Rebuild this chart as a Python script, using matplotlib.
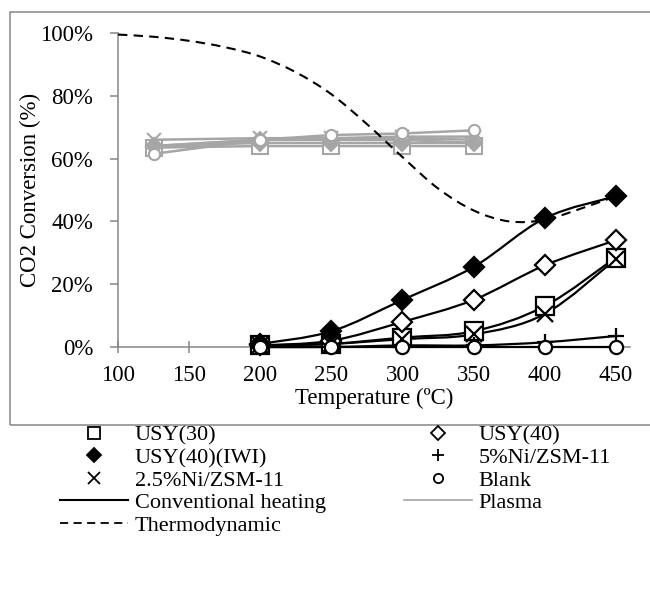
import numpy as np
import matplotlib.pyplot as plt
from matplotlib.path import Path
from matplotlib.patches import PathPatch, Rectangle
from matplotlib.lines import Line2D
from matplotlib.ticker import FuncFormatter

plt.rcParams['font.family'] = ['Liberation Serif', 'DejaVu Serif']

# conventional heating (%)
temp_conv = [200, 250, 300, 350, 400, 450]
usy30_conv = [0.5, 1.0, 3.0, 5.0, 13.0, 28.5]
usy40_conv = [0.5, 2.0, 8.0, 15.0, 26.0, 34.0]
usy40iwi_conv = [1.0, 5.0, 15.0, 25.5, 41.0, 48.0]
ni5_conv = [0.0, 0.0, 0.5, 0.5, 1.5, 3.5]
ni25_conv = [0.5, 1.0, 2.5, 4.0, 10.5, 28.0]
blank_conv = [0.0, 0.0, 0.0, 0.0, 0.0, 0.0]

# plasma (%)
temp_plasma = [125, 200, 250, 300, 350]
usy30_plasma = [63.5, 64.0, 64.0, 64.0, 64.0]
usy40_plasma = [64.0, 66.0, 66.0, 66.5, 66.0]
usy40iwi_plasma = [64.0, 65.0, 65.0, 65.0, 65.0]
ni5_plasma = [64.0, 66.0, 66.0, 66.0, 65.0]
ni25_plasma = [66.0, 66.5, 66.5, 67.0, 67.0]
blank_plasma = [61.5, 66.0, 67.5, 68.0, 69.0]

# thermodynamic equilibrium (%)
temp_thermo = [100, 125, 150, 175, 200, 225, 250, 275, 300, 325, 350, 375, 400, 425, 450]
thermo = [99.5, 98.8, 97.5, 95.5, 92.5, 87.5, 80.5, 71.0, 60.5, 50.5, 43.5, 40.0, 40.5, 44.0, 48.0]

labels = ['USY(30)', 'USY(40)', 'USY(40)(IWI)', '5%Ni/ZSM-11', '2.5%Ni/ZSM-11', 'Blank']
markers = ['s', 'D', 'D', '+', 'x', 'o']
filled = [False, False, True, False, False, False]
msizes = [13, 10, 10, 12, 12, 9.5]
conv_sets = [usy30_conv, usy40_conv, usy40iwi_conv, ni5_conv, ni25_conv, blank_conv]
plasma_sets = [usy30_plasma, usy40_plasma, usy40iwi_plasma, ni5_plasma, ni25_plasma, blank_plasma]

GRAY = '#a6a6a6'
AXGRAY = '#868686'


def smooth_path(x, y):
    # excel style smoothed line: cubic bezier through every point
    pts = np.column_stack([x, y]).astype(float)
    n = len(pts)
    verts = [pts[0]]
    codes = [Path.MOVETO]
    for i in range(n - 1):
        p0 = pts[i - 1] if i > 0 else pts[i]
        p3 = pts[i + 2] if i + 2 < n else pts[i + 1]
        c1 = pts[i] + (pts[i + 1] - p0) / 6.0
        c2 = pts[i + 1] - (p3 - pts[i]) / 6.0
        verts += [c1, c2, pts[i + 1]]
        codes += [Path.CURVE4] * 3
    return Path(verts, codes)


fig = plt.figure(figsize=(6.5, 5.98), dpi=100)
fig.patches.append(Rectangle((10 / 650, 1 - 425 / 598), 1.0, (425 - 12) / 598,
                             transform=fig.transFigure, fill=False,
                             edgecolor=AXGRAY, linewidth=1.1))
ax = fig.add_axes([118 / 650, 1 - 347 / 598, (630 - 118) / 650, (347 - 33) / 598])

# plasma series
for vals, m, f, ms in zip(plasma_sets, markers, filled, msizes):
    ax.plot(temp_plasma, vals, color=GRAY, linewidth=1.8, marker=m,
            markersize=ms * 0.85, markeredgecolor=GRAY, markeredgewidth=1.5,
            markerfacecolor=GRAY if f else 'white', zorder=2, clip_on=False)

# thermodynamic
ax.add_patch(PathPatch(smooth_path(temp_thermo, thermo), fill=False, edgecolor='black',
                       linewidth=1.5, linestyle=(0, (4.5, 3.0)), zorder=3))

# conventional heating series
for vals, m, f, ms in zip(conv_sets, markers, filled, msizes):
    ax.add_patch(PathPatch(smooth_path(temp_conv, vals), fill=False, edgecolor='black',
                           linewidth=1.6, zorder=4, clip_on=False))
    ax.plot(temp_conv, vals, linestyle='none', marker=m, markersize=ms,
            markeredgecolor='black', markeredgewidth=1.6,
            markerfacecolor='black' if f else 'white', zorder=5, clip_on=False)

ax.set_xlim(100, 460)
ax.set_ylim(0, 100)
ax.set_xticks([100, 150, 200, 250, 300, 350, 400, 450])
ax.set_yticks([0, 20, 40, 60, 80, 100])
ax.yaxis.set_major_formatter(FuncFormatter(lambda v, p: '%d%%' % v))
for s in ['top', 'right']:
    ax.spines[s].set_visible(False)
for s in ['left', 'bottom']:
    ax.spines[s].set_color(AXGRAY)
    ax.spines[s].set_linewidth(1.1)
ax.tick_params(axis='x', direction='inout', length=9, width=1.1, color=AXGRAY,
               labelsize=16.5, pad=8.5)
ax.tick_params(axis='y', direction='out', length=6, width=1.1, color=AXGRAY,
               labelsize=16.5, pad=12)
ax.set_xlabel('Temperature (ºC)', fontsize=16.5, labelpad=1.5)
ax.set_ylabel('CO2 Conversion (%)', fontsize=16.5, labelpad=-1)

# legend, column-major order
handles = []
for m, f, ms in zip(markers, filled, msizes):
    handles.append(Line2D([], [], linestyle='none', marker=m, markersize=ms * 0.7,
                          markeredgecolor='black', markeredgewidth=1.3,
                          markerfacecolor='black' if f else 'white'))
h_conv = Line2D([], [], color='black', linewidth=1.5)
h_plasma = Line2D([], [], color=GRAY, linewidth=1.2)
h_thermo = Line2D([], [], color='black', linewidth=1.3, linestyle=(0, (4.5, 3.0)))
order_h = [handles[0], handles[2], handles[4], h_conv, h_thermo,
           handles[1], handles[3], handles[5], h_plasma]
order_l = [labels[0], labels[2], labels[4], 'Conventional heating', 'Thermodynamic',
           labels[1], labels[3], labels[5], 'Plasma']
fig.legend(order_h, order_l, ncol=2, loc='upper left',
           bbox_to_anchor=(60 / 650, 1 - 425 / 598), bbox_transform=fig.transFigure,
           frameon=False, fontsize=16, borderpad=0, borderaxespad=0,
           handlelength=3.06, handletextpad=0.3, columnspacing=3.52,
           labelspacing=0.09)

fig.savefig('out.png', dpi=100)
